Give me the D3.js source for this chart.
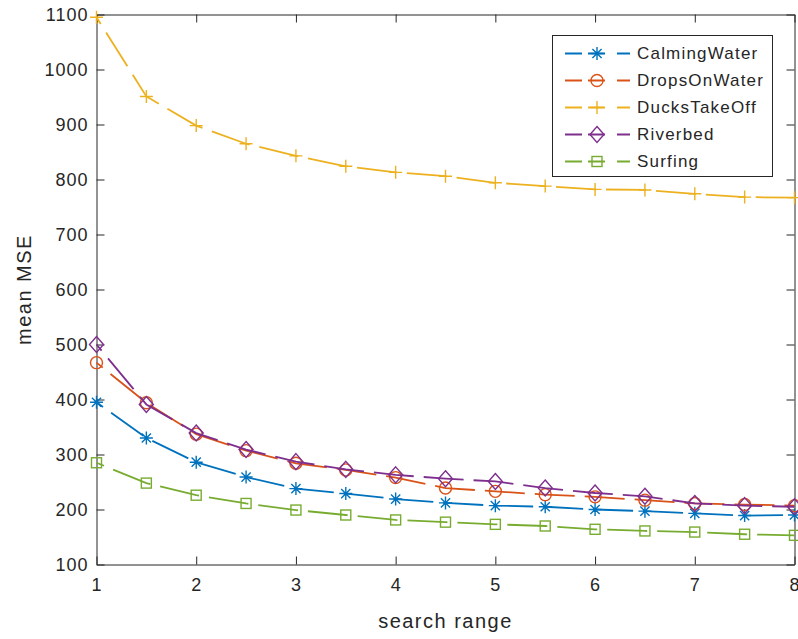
<!DOCTYPE html>
<html>
<head>
<meta charset="utf-8">
<script src="https://cdn.jsdelivr.net/npm/d3@7"></script>
<style>
  body { margin: 0; background: #fff; }
  svg { display: block; font-family: "Liberation Sans", Arial, Helvetica, sans-serif; }
  .axis path, .axis line { stroke: #262626; }
  .axis text { fill: #262626; font-size: 18px; letter-spacing: 1px; }
</style>
</head>
<body>
<svg id="chart" width="798" height="639"></svg>
<script>
// search range values on the x axis
const searchRange = [1, 1.5, 2, 2.5, 3, 3.5, 4, 4.5, 5, 5.5, 6, 6.5, 7, 7.5, 8];

// mean MSE per sequence
const calmingWater = [395, 330, 286, 259, 238, 229, 219, 212, 207, 205, 200, 197, 193, 189, 190];
const dropsOnWater = [467, 394, 337, 307, 284, 272, 258, 239, 233, 227, 223, 217, 211, 209, 207];
const ducksTakeOff = [1095, 951, 898, 865, 843, 824, 813, 806, 794, 788, 782, 781, 774, 768, 767];
const riverbed     = [500, 391, 339, 309, 287, 273, 263, 256, 251, 239, 230, 224, 211, 207, 205];
const surfing      = [285, 248, 226, 211, 199, 190, 181, 177, 173, 170, 164, 161, 159, 155, 153];

const seriesNames = ['CalmingWater', 'DropsOnWater', 'DucksTakeOff', 'Riverbed', 'Surfing'];
const xTicks = [1, 2, 3, 4, 5, 6, 7, 8];
const yTicks = [100, 200, 300, 400, 500, 600, 700, 800, 900, 1000, 1100];

const series = [
  {name: seriesNames[0], values: calmingWater, color: '#0072BD', marker: 'asterisk'},
  {name: seriesNames[1], values: dropsOnWater, color: '#D95319', marker: 'circle'},
  {name: seriesNames[2], values: ducksTakeOff, color: '#EDB120', marker: 'plus'},
  {name: seriesNames[3], values: riverbed,     color: '#7E2F8E', marker: 'diamond'},
  {name: seriesNames[4], values: surfing,      color: '#77AC30', marker: 'square'}
];

const svg = d3.select('#chart');
const plotLeft = 96.5, plotRight = 794.5, plotTop = 14.5, plotBottom = 564.5;

const xScale = d3.scaleLinear().domain([1, 8]).range([plotLeft, plotRight]);
const yScale = d3.scaleLinear().domain([100, 1100]).range([plotBottom, plotTop]);
const intFormat = d3.format('d');

// axes, MATLAB style: ticks point inward, box all round
svg.append('g')
   .attr('class', 'axis')
   .attr('transform', `translate(0, ${plotBottom})`)
   .call(d3.axisBottom(xScale).tickValues(xTicks).tickFormat(intFormat)
           .tickSizeInner(-8).tickSizeOuter(0).tickPadding(14));
svg.append('g')
   .attr('class', 'axis')
   .attr('transform', `translate(${plotLeft}, 0)`)
   .call(d3.axisLeft(yScale).tickValues(yTicks).tickFormat(intFormat)
           .tickSizeInner(-8).tickSizeOuter(0).tickPadding(8));
svg.append('g')
   .attr('class', 'axis')
   .attr('transform', `translate(0, ${plotTop})`)
   .call(d3.axisTop(xScale).tickValues(xTicks).tickSizeInner(-8).tickSizeOuter(0).tickFormat(''));
svg.append('g')
   .attr('class', 'axis')
   .attr('transform', `translate(${plotRight}, 0)`)
   .call(d3.axisRight(yScale).tickValues(yTicks).tickSizeInner(-8).tickSizeOuter(0).tickFormat(''));

svg.append('text')
   .attr('x', (plotLeft + plotRight) / 2)
   .attr('y', 628)
   .attr('text-anchor', 'middle')
   .attr('fill', '#262626')
   .style('font-size', '20px')
   .style('letter-spacing', '1.5px')
   .text('search range');

svg.append('text')
   .attr('transform', `translate(31, ${(plotTop + plotBottom) / 2}) rotate(-90)`)
   .attr('text-anchor', 'middle')
   .attr('fill', '#262626')
   .style('font-size', '20px')
   .style('letter-spacing', '1.5px')
   .text('mean MSE');

function drawMarker(g, type, color) {
  g.attr('fill', 'none').attr('stroke', color).attr('stroke-width', 1.4);
  if (type === 'circle') {
    g.append('circle').attr('r', 6);
  } else if (type === 'square') {
    g.append('rect').attr('x', -5).attr('y', -5).attr('width', 10).attr('height', 10);
  } else if (type === 'diamond') {
    g.append('path').attr('d', 'M0,-8L7,0L0,8L-7,0Z');
  } else if (type === 'plus') {
    g.append('path').attr('d', 'M-6.5,0H6.5M0,-6.5V6.5');
  } else if (type === 'asterisk') {
    g.append('path').attr('d', 'M-6.5,0H6.5M0,-6.5V6.5M-4.6,-4.6L4.6,4.6M-4.6,4.6L4.6,-4.6');
  }
}

const line = d3.line()
  .x((d, i) => xScale(searchRange[i]))
  .y(d => yScale(d));

const plot = svg.append('g');
series.forEach(s => {
  plot.append('path')
      .attr('d', line(s.values))
      .attr('fill', 'none')
      .attr('stroke', s.color)
      .attr('stroke-width', 1.8)
      .attr('stroke-dasharray', '40,10')
      .attr('stroke-dashoffset', -18);
  plot.selectAll(null)
      .data(s.values)
      .enter()
      .append('g')
      .attr('transform', (d, i) => `translate(${xScale(searchRange[i])}, ${yScale(d)})`)
      .each(function() { drawMarker(d3.select(this), s.marker, s.color); });
});

// legend
const legend = svg.append('g');
legend.append('rect')
      .attr('x', 552.5).attr('y', 35.5)
      .attr('width', 220).attr('height', 141)
      .attr('fill', '#fff')
      .attr('stroke', '#262626')
      .attr('stroke-width', 1);
series.forEach((s, i) => {
  const y = 53.5 + i * 27;
  const row = legend.append('g').attr('transform', `translate(0, ${y})`);
  row.append('line')
     .attr('x1', 565).attr('x2', 630)
     .attr('stroke', s.color)
     .attr('stroke-width', 1.8)
     .attr('stroke-dasharray', '17,6,17,12,13');
  drawMarker(row.append('g').attr('transform', 'translate(597, 0)'), s.marker, s.color);
  row.append('text')
     .attr('x', 637)
     .attr('dy', '0.35em')
     .attr('fill', '#262626')
     .style('font-size', '17px')
     .style('letter-spacing', '1.2px')
     .text(s.name);
});
</script>
</body>
</html>
